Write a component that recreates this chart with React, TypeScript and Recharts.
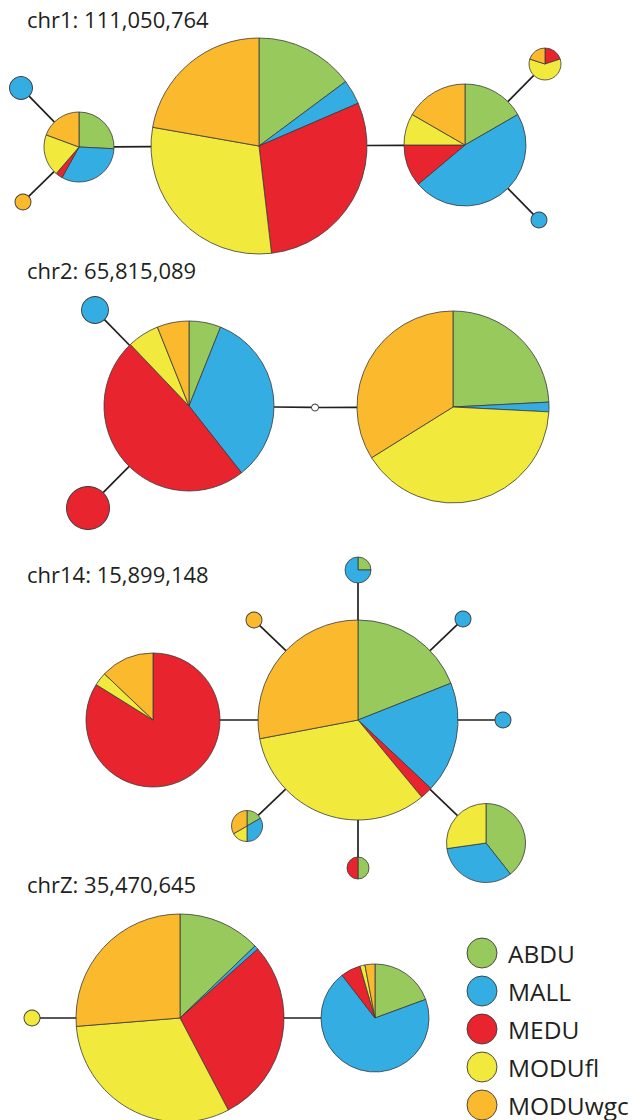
import React from 'react';
import { PieChart, Pie, Cell, Customized, Legend } from 'recharts';

// Populations, in the order the slices run clockwise from twelve o'clock
const populations = ['ABDU', 'MALL', 'MEDU', 'MODUfl', 'MODUwgc'];
const popColors = ['#97c95c', '#34aee2', '#e8242f', '#f1e93b', '#fbb92e'];

const chromosomes = ['chr1', 'chr2', 'chr14', 'chrZ'];
const chromPositions = ['111,050,764', '65,815,089', '15,899,148', '35,470,645'];

// Haplotype counts per population: [ABDU, MALL, MEDU, MODUfl, MODUwgc]
// chr1
const chr1Main = [4, 1, 8, 8, 6];
const chr1Left = [8, 10, 1, 6, 6];
const chr1Right = [6, 17, 4, 3, 6];
const chr1LeftUp = [0, 1, 0, 0, 0];
const chr1LeftDown = [0, 0, 0, 0, 1];
const chr1RightUp = [0, 0, 1, 3, 1];
const chr1RightDown = [0, 1, 0, 0, 0];
// chr2
const chr2Left = [2, 11, 16, 2, 2];
const chr2Right = [15, 1, 0, 25, 21];
const chr2LeftUp = [0, 1, 0, 0, 0];
const chr2LeftDown = [0, 0, 1, 0, 0];
// chr14
const chr14Main = [19, 18, 2, 33, 28];
const chr14Left = [0, 0, 26, 1, 4];
const chr14Top = [1, 3, 0, 0, 0];
const chr14TopLeft = [0, 0, 0, 0, 1];
const chr14TopRight = [0, 1, 0, 0, 0];
const chr14Right = [0, 1, 0, 0, 0];
const chr14BottomRight = [13, 11, 0, 9, 0];
const chr14Bottom = [1, 0, 1, 0, 0];
const chr14BottomLeft = [1, 2, 0, 1, 2];
// chrZ
const chrZMain = [20, 1, 45, 49, 41];
const chrZRight = [13, 47, 4, 1, 2];
const chrZLeft = [0, 0, 0, 1, 0];

// Network layout: node centres and radii (px); a null count marks a median vector
type NetNode = { id: string; counts: number[] | null; cx: number; cy: number; r: number };
const nodes: NetNode[] = [
  { id: 'c1m', counts: chr1Main, cx: 259, cy: 146, r: 108 },
  { id: 'c1l', counts: chr1Left, cx: 79, cy: 147, r: 35 },
  { id: 'c1r', counts: chr1Right, cx: 465, cy: 145, r: 61 },
  { id: 'c1lu', counts: chr1LeftUp, cx: 21, cy: 88, r: 11.5 },
  { id: 'c1ld', counts: chr1LeftDown, cx: 23, cy: 202, r: 8 },
  { id: 'c1ru', counts: chr1RightUp, cx: 545, cy: 64, r: 16 },
  { id: 'c1rd', counts: chr1RightDown, cx: 539, cy: 220, r: 8 },

  { id: 'c2l', counts: chr2Left, cx: 189, cy: 406, r: 85 },
  { id: 'c2r', counts: chr2Right, cx: 453, cy: 407, r: 96 },
  { id: 'c2lu', counts: chr2LeftUp, cx: 95, cy: 310, r: 13.5 },
  { id: 'c2ld', counts: chr2LeftDown, cx: 88, cy: 508, r: 21.5 },
  { id: 'c2mv', counts: null, cx: 315, cy: 407.5, r: 3.5 },

  { id: 'c14m', counts: chr14Main, cx: 358, cy: 720, r: 100 },
  { id: 'c14l', counts: chr14Left, cx: 153, cy: 720, r: 67 },
  { id: 'c14t', counts: chr14Top, cx: 358, cy: 570, r: 13 },
  { id: 'c14tl', counts: chr14TopLeft, cx: 254, cy: 620, r: 8 },
  { id: 'c14tr', counts: chr14TopRight, cx: 463, cy: 619, r: 8 },
  { id: 'c14r', counts: chr14Right, cx: 503, cy: 720, r: 8 },
  { id: 'c14br', counts: chr14BottomRight, cx: 486, cy: 843, r: 39.5 },
  { id: 'c14b', counts: chr14Bottom, cx: 358, cy: 868, r: 11 },
  { id: 'c14bl', counts: chr14BottomLeft, cx: 247, cy: 826, r: 15.5 },

  { id: 'cZm', counts: chrZMain, cx: 180, cy: 1018, r: 104 },
  { id: 'cZr', counts: chrZRight, cx: 375, cy: 1018, r: 54 },
  { id: 'cZl', counts: chrZLeft, cx: 32, cy: 1018, r: 8 },
];

const edges: [string, string][] = [
  ['c1lu', 'c1l'], ['c1ld', 'c1l'], ['c1l', 'c1m'], ['c1m', 'c1r'], ['c1r', 'c1ru'], ['c1r', 'c1rd'],
  ['c2lu', 'c2l'], ['c2ld', 'c2l'], ['c2l', 'c2mv'], ['c2mv', 'c2r'],
  ['c14l', 'c14m'], ['c14m', 'c14t'], ['c14m', 'c14tl'], ['c14m', 'c14tr'], ['c14m', 'c14r'],
  ['c14m', 'c14br'], ['c14m', 'c14b'], ['c14m', 'c14bl'],
  ['cZl', 'cZm'], ['cZm', 'cZr'],
];

const titleBaselines = [28, 279, 583, 893];
const FONT = "'Open Sans', 'Noto Sans', sans-serif";
const INK = '#231f20';
const OUTLINE = '#3a3a3a';

const nodeById = (id: string) => nodes.find((n) => n.id === id)!;

function NetworkDecor() {
  return (
    <g>
      {edges.map(([a, b]) => {
        const p = nodeById(a);
        const q = nodeById(b);
        const dx = q.cx - p.cx;
        const dy = q.cy - p.cy;
        const len = Math.hypot(dx, dy);
        const ux = dx / len;
        const uy = dy / len;
        return (
          <line
            key={a + b}
            x1={p.cx + ux * p.r}
            y1={p.cy + uy * p.r}
            x2={q.cx - ux * q.r}
            y2={q.cy - uy * q.r}
            stroke={INK}
            strokeWidth={1.7}
          />
        );
      })}
      {chromosomes.map((c, i) => (
        <text key={c} x={27} y={titleBaselines[i]} fontFamily={FONT} fontSize={22} fill={INK}>
          {`${c}: ${chromPositions[i]}`}
        </text>
      ))}
    </g>
  );
}

function PopulationLegend() {
  return (
    <svg width={180} height={190} style={{ display: 'block', overflow: 'visible' }}>
      {populations.map((p, i) => (
        <g key={p}>
          <circle cx={20} cy={19 + i * 38} r={15} fill={popColors[i]} stroke={OUTLINE} strokeWidth={0.9} />
          <text x={46} y={19 + i * 38} dominantBaseline="central" fontFamily={FONT} fontSize={24.5} fill={INK}>
            {p}
          </text>
        </g>
      ))}
    </svg>
  );
}

export default function App() {
  const pies: React.ReactNode[] = [];
  nodes.forEach((n) => {
    const data = n.counts
      ? n.counts
          .map((v, i) => ({ name: populations[i], value: v, color: popColors[i] }))
          .filter((d) => d.value > 0)
      : [{ name: 'median', value: 1, color: '#ffffff' }];
    const single = data.length === 1;
    pies.push(
      <Pie
        key={n.id}
        data={data}
        dataKey="value"
        nameKey="name"
        cx={n.cx}
        cy={n.cy}
        innerRadius={0}
        outerRadius={n.r}
        startAngle={90}
        endAngle={-270}
        stroke={single ? 'none' : OUTLINE}
        strokeWidth={0.8}
        label={false}
        labelLine={false}
        legendType="none"
        isAnimationActive={false}
      >
        {data.map((d) => (
          <Cell key={d.name} fill={d.color} />
        ))}
      </Pie>
    );
    if (single) {
      // thin outline ring for one-population nodes (avoids a radial seam)
      pies.push(
        <Pie
          key={n.id + '-ring'}
          data={[{ name: 'outline', value: 1 }]}
          dataKey="value"
          cx={n.cx}
          cy={n.cy}
          innerRadius={n.r - 0.45}
          outerRadius={n.r + 0.45}
          startAngle={90}
          endAngle={-270}
          fill={OUTLINE}
          stroke="none"
          label={false}
          labelLine={false}
          legendType="none"
          isAnimationActive={false}
        />
      );
    }
  });

  return (
    <div style={{ position: 'absolute', left: 0, top: 0, background: '#fff' }}>
      <PieChart width={642} height={1120} margin={{ top: 0, right: 0, bottom: 0, left: 0 }}>
        <Customized component={<NetworkDecor />} />
        {pies}
        <Legend
          content={() => <PopulationLegend />}
          wrapperStyle={{ position: 'absolute', left: 462, top: 934, width: 180, height: 190 }}
        />
      </PieChart>
    </div>
  );
}
